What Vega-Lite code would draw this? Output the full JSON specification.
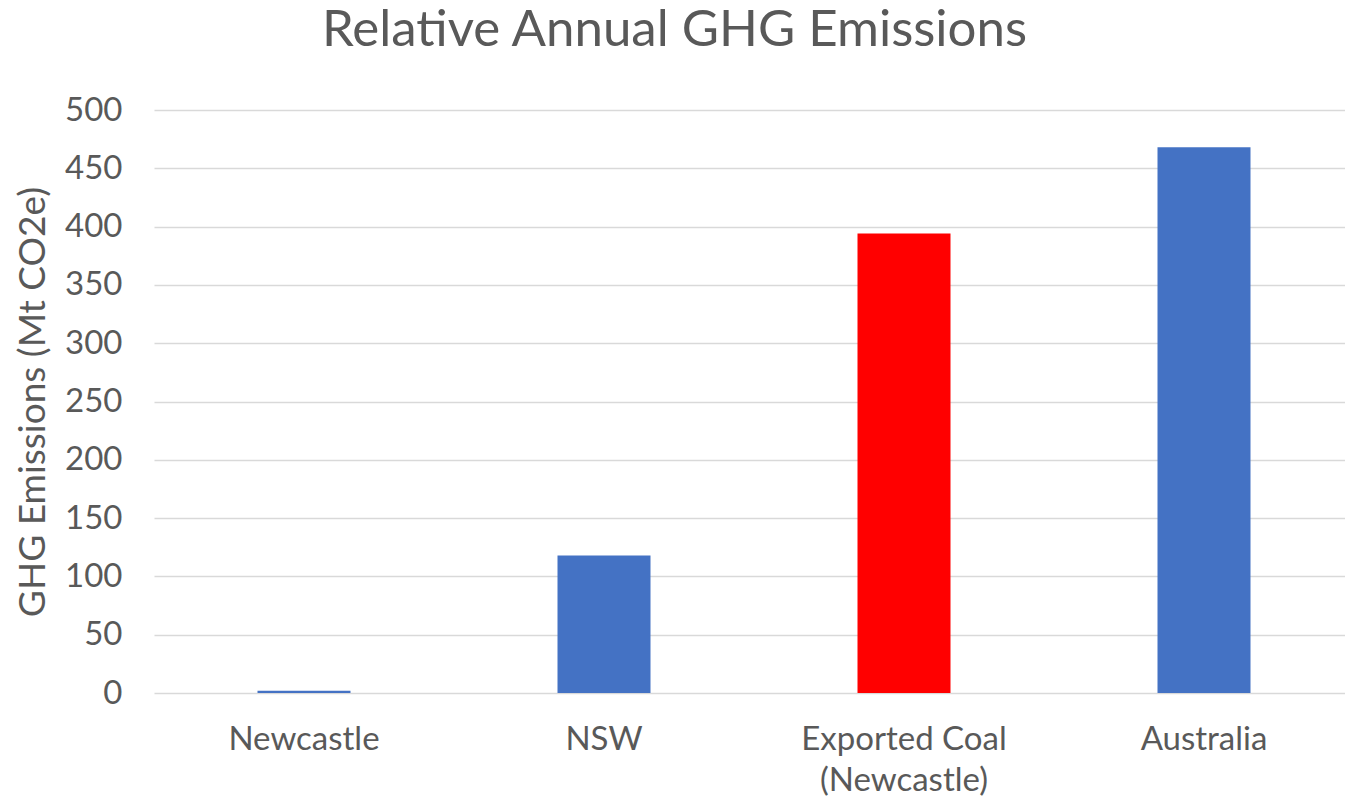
{
  "$schema": "https://vega.github.io/schema/vega-lite/v6.json",
  "width": 1191,
  "height": 583,
  "autosize": "none",
  "padding": {"left": 154, "top": 110, "right": 0, "bottom": 107},
  "background": "white",
  "title": {
    "text": "Relative Annual GHG Emissions",
    "font": "Lato",
    "fontSize": 51,
    "fontWeight": "normal",
    "color": "#595959",
    "anchor": "middle",
    "frame": "group",
    "dx": -75,
    "offset": 37,
    "baseline": "top"
  },
  "data": {
    "values": [
      {"region": "Newcastle", "emissions": 2, "kind": "local"},
      {"region": "NSW", "emissions": 118, "kind": "local"},
      {"region": "Exported Coal (Newcastle)", "emissions": 394, "kind": "export"},
      {"region": "Australia", "emissions": 468, "kind": "local"}
    ]
  },
  "mark": {"type": "bar"},
  "encoding": {
    "x": {
      "field": "region",
      "type": "nominal",
      "sort": null,
      "scale": {"range": [0, 1200], "paddingInner": 0.69, "paddingOuter": 0.345},
      "axis": {
        "title": null,
        "labelAngle": 0,
        "domain": false,
        "ticks": false,
        "labelFont": "Lato",
        "labelFontSize": 33,
        "labelColor": "#595959",
        "labelPadding": 56,
        "labelLineHeight": 41,
        "labelLimit": 0,
        "labelBaseline": "alphabetic",
        "labelExpr": "datum.label == 'Exported Coal (Newcastle)' ? ['Exported Coal', '(Newcastle)'] : datum.label"
      }
    },
    "y": {
      "field": "emissions",
      "type": "quantitative",
      "scale": {"domain": [0, 500]},
      "axis": {
        "title": "GHG Emissions (Mt CO2e)",
        "values": [0, 50, 100, 150, 200, 250, 300, 350, 400, 450, 500],
        "domain": false,
        "ticks": false,
        "grid": true,
        "gridColor": "#D9D9D9",
        "gridWidth": 1.5,
        "labelFont": "Lato",
        "labelFontSize": 33,
        "labelColor": "#595959",
        "labelPadding": 32,
        "titleFont": "Lato",
        "titleFontSize": 37,
        "titleFontWeight": "normal",
        "titleColor": "#595959",
        "titlePadding": 12
      }
    },
    "color": {
      "field": "kind",
      "type": "nominal",
      "scale": {"domain": ["local", "export"], "range": ["#4472C4", "#FF0000"]},
      "legend": null
    }
  },
  "config": {"view": {"stroke": null}}
}
